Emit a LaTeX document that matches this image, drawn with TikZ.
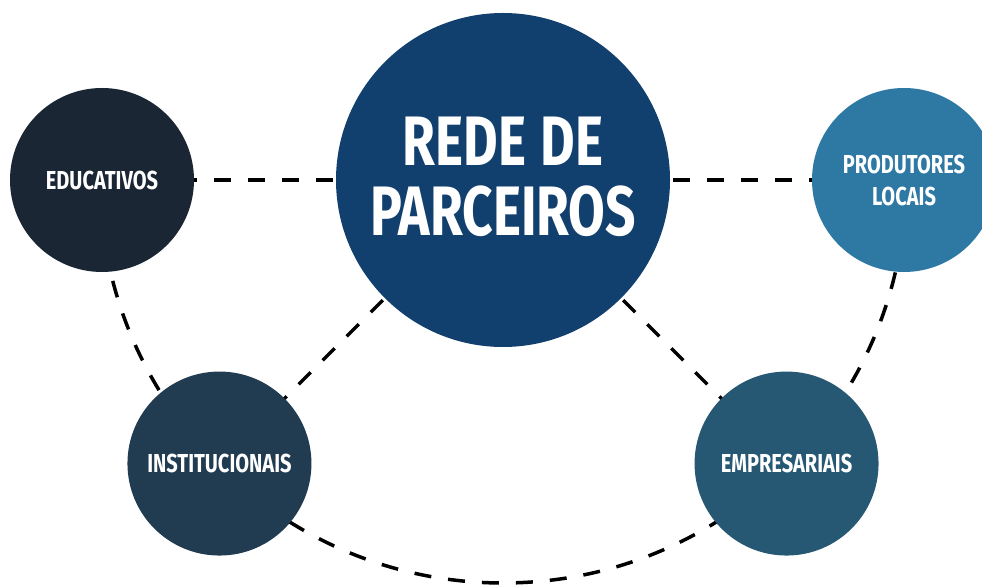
\documentclass[tikz,border=0pt]{standalone}
\usepackage{fontspec}
\usetikzlibrary{calc}
\newfontfamily\cf[FakeStretch=0.77]{Fira Sans Bold}
\newfontfamily\cfbig[FakeStretch=0.76]{Fira Sans Bold}
\definecolor{cmain}{HTML}{12406E}
\definecolor{cedu}{HTML}{1A2634}
\definecolor{cinst}{HTML}{213B51}
\definecolor{cemp}{HTML}{265874}
\definecolor{cprod}{HTML}{2E79A4}
\tikzset{
  dline/.style={line width=3.5pt, dash pattern=on 17pt off 17pt, black},
  bigc/.style={circle, inner sep=0pt, minimum size=334pt, text=white, align=center},
  smallc/.style={circle, inner sep=0pt, minimum size=184pt, text=white, align=center,
     font=\cf\fontsize{26}{32}\selectfont},
}
\begin{document}
\begin{tikzpicture}[x=1pt,y=1pt]
\useasboundingbox (0,0) rectangle (982,586);
\coordinate (c) at (503,406);
\coordinate (pe) at ($(c)+(180:401)$);
\coordinate (pi) at ($(c)+(225:401)$);
\coordinate (pm) at ($(c)+(315:401)$);
\coordinate (pp) at ($(c)+(0:401)$);
\coordinate (arcstart) at ($(c)+(180:403)$);
% connectors behind circles
\draw[dline] (arcstart) arc[start angle=180, end angle=360, radius=403];
\draw[dline] (c) -- (pe);
\draw[dline] (c) -- (pp);
\draw[dline] (c) -- (pi);
\draw[dline] (c) -- (pm);
% circles
\node[bigc, fill=cmain] (central) at (c) {};
\node[text=white, align=center, inner sep=0pt, font=\cfbig\fontsize{70}{70}\selectfont]
  (centraltext) at ($(central.center)+(0,3)$) {REDE\hspace{14pt}DE\\PARCEIROS};
\node[smallc, fill=cedu] (edu) at (pe) {EDUCATIVOS};
\node[smallc, fill=cinst] (inst) at (pi) {INSTITUCIONAIS};
\node[smallc, fill=cemp] (emp) at (pm) {EMPRESARIAIS};
\node[smallc, fill=cprod] (prod) at (pp) {PRODUTORES\\LOCAIS};
\end{tikzpicture}
\end{document}
